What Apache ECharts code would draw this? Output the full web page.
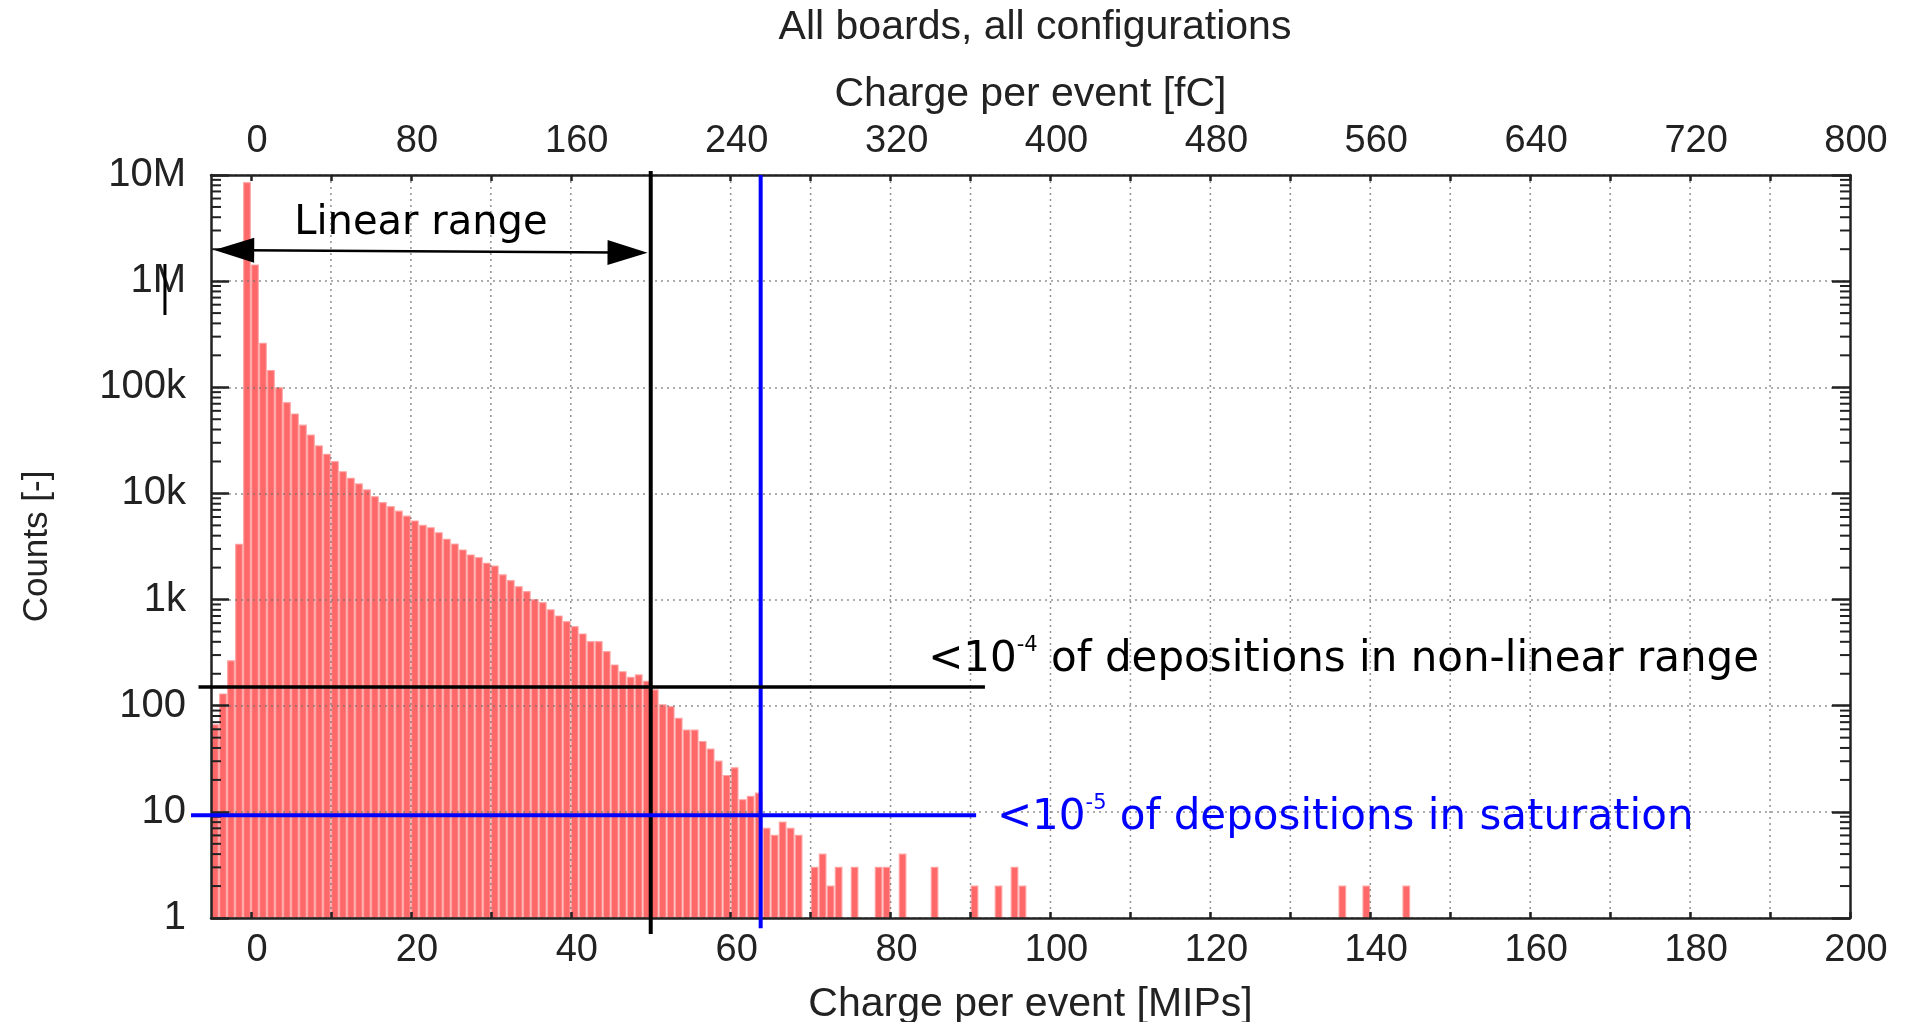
<!DOCTYPE html>
<html><head><meta charset="utf-8">
<script src="https://cdn.jsdelivr.net/npm/echarts@6/dist/echarts.min.js"></script>
<style>html,body{margin:0;padding:0;background:#fff}#c{width:1914px;height:1022px}</style>
</head><body><div id="c"></div>
<script>
// ---------------- data ----------------
const chartTitle = 'All boards, all configurations';
const xTitleBottom = 'Charge per event [MIPs]';
const xTitleTop = 'Charge per event [fC]';
const yTitle = 'Counts [-]';

// histogram bins (left edge in MIPs, 1 MIP wide) and counts
const binLeftMIP = [-5,-4,-3,-2,-1,0,1,2,3,4,5,6,7,8,9,10,11,12,13,14,15,16,17,18,19,20,21,22,23,24,25,26,27,28,29,30,31,32,33,34,35,36,37,38,39,40,41,42,43,44,45,46,47,48,49,50,51,52,53,54,55,56,57,58,59,60,61,62,63,64,65,66,67,68,70,71,72,73,75,78,79,81,85,90,93,95,96,136,139,144];
const binCounts = [66,129,265,3320,8470000,
  1420000,260000,144000,99000,71600,56000,44000,35500,28000,23400,
  19900,16000,13900,12300,10800,9300,8200,7500,6800,6100,
  5500,5000,4750,4260,3700,3330,2930,2630,2480,2200,
  2070,1710,1510,1320,1190,1000,935,800,700,619,
  556,474,401,401,323,242,209,185,195,170,
  141,102,98,76,59,59,46,39,30,22,
  26,13,14,15,7,6,8,7,6,
  3,4,2,3,3,3,3,4,3,2,2,3,2,
  2,2,2];
const binWidthMIP = 1;

// axes
const mipRange = [-5, 200];
const fcRange = [-20, 800];
const mipTickValues = [0,10,20,30,40,50,60,70,80,90,100,110,120,130,140,150,160,170,180,190,200];
const mipLabelValues = [0,20,40,60,80,100,120,140,160,180,200];
const fcTickValues = [0,40,80,120,160,200,240,280,320,360,400,440,480,520,560,600,640,680,720,760,800];
const fcLabelValues = [0,80,160,240,320,400,480,560,640,720,800];
const countRange = [1, 10000000];
const countTickLabels = ['1','10','100','1k','10k','100k','1M','10M'];
const countMinorMantissas = [2,3,4,5,6,7,8,9];
const countDecades = [1,10,100,1000,10000,100000,1000000];
const gridLineMIP = [10,20,30,40,50,60,70,80,90,100,110,120,130,140,150,160,170,180,190];

// annotations
const linearLimitMIP = 50;
const saturationMIP = 63.75;
const nonLinearLevel = 150;
const saturationLevel = 9.3;
const linearRangeFrom = [-4.6, 1960000];
const linearRangeTo = [49.6, 1850000];
const linearRangeText = 'Linear range';
const nonLinearText = ['<10', '-4', ' of depositions in non-linear range'];
const saturationText = ['<10', '-5', ' of depositions in saturation'];

// ---------------- chart ----------------
const chart = echarts.init(document.getElementById('c'), null, {renderer: 'canvas'});
const AX = '#222';
const labelFont = 'Liberation Sans';
const annFont = 'DejaVu Sans';

const barData = binLeftMIP.map((l, i) => [l, l + binWidthMIP, binCounts[i]]);
const minorTicks = [];
countDecades.forEach(d => countMinorMantissas.forEach(m => minorTicks.push([mipRange[0], m * d])));

function renderBar(params, api) {
  const a = api.coord([api.value(0), api.value(2)]);
  const b = api.coord([api.value(1), countRange[0]]);
  return {type: 'rect', shape: {x: a[0] + 0.7, y: a[1], width: b[0] - a[0] - 1.4, height: b[1] - a[1]},
    style: {fill: 'rgba(255,66,66,0.8)', stroke: 'rgba(255,160,160,0.9)', lineWidth: 1.2}};
}
function renderGrid(params, api) {
  const a = api.coord([api.value(0), countRange[1]]);
  const b = api.coord([api.value(0), countRange[0]]);
  return {type: 'line', shape: {x1: a[0], y1: a[1], x2: b[0], y2: b[1]},
    style: {stroke: 'rgba(110,110,110,0.75)', lineWidth: 1.5, lineDash: [2, 4]}};
}
function renderMinor(params, api) {
  const v = api.value(1);
  const a = api.coord([mipRange[0], v]);
  const b = api.coord([mipRange[1], v]);
  return {type: 'group', children: [
    {type: 'line', shape: {x1: a[0], y1: a[1], x2: a[0] + 10, y2: a[1]}, style: {stroke: AX, lineWidth: 2}},
    {type: 'line', shape: {x1: b[0] - 10, y1: b[1], x2: b[0], y2: b[1]}, style: {stroke: AX, lineWidth: 2}}
  ]};
}
function seg(api, p, q, color, w) {
  const a = api.coord(p), b = api.coord(q);
  return {type: 'line', shape: {x1: a[0], y1: a[1], x2: b[0], y2: b[1]}, style: {stroke: color, lineWidth: w}};
}
function arrowHead(tip, base, half) {
  const dx = base[0] - tip[0], dy = base[1] - tip[1];
  const len = Math.sqrt(dx * dx + dy * dy);
  const nx = -dy / len * half, ny = dx / len * half;
  return {type: 'polygon', shape: {points: [tip, [base[0] + nx, base[1] + ny], [base[0] - nx, base[1] - ny]]}, style: {fill: '#000'}};
}
function richText(api, x, v, parts, color, sizeMain, sizeSup, supLH) {
  const p = api.coord([x, v]);
  return {type: 'text', x: p[0], y: p[1], style: {
    text: '{m|' + parts[0] + '}{s|' + parts[1] + '}{m|' + parts[2] + '}',
    align: 'left', verticalAlign: 'middle',
    rich: {
      m: {fontSize: sizeMain, fontFamily: annFont, fill: color, lineHeight: 50},
      s: {fontSize: sizeSup, fontFamily: annFont, fill: color, lineHeight: supLH, verticalAlign: 'top'}
    }}};
}
function renderAnn(params, api) {
  const L0 = api.coord(linearRangeFrom), L1 = api.coord(linearRangeTo);
  const dx = L1[0] - L0[0], dy = L1[1] - L0[1];
  const len = Math.sqrt(dx * dx + dy * dy);
  const ux = dx / len, uy = dy / len;
  const head = 40;
  const tt = api.coord([5.4, 3500000]);
  return {type: 'group', children: [
    seg(api, [linearLimitMIP, 10900000], [linearLimitMIP, 0.707], '#000', 4),
    seg(api, [saturationMIP, countRange[1]], [saturationMIP, 0.8], '#0000ff', 4),
    seg(api, [-6.56, nonLinearLevel], [91.8, nonLinearLevel], '#000', 3.5),
    seg(api, [-7.5, saturationLevel], [90.7, saturationLevel], '#0000ff', 4),
    seg(api, [-10.76, 1450000], [-10.76, 480000], '#000', 3),
    {type: 'line', shape: {x1: L0[0] + ux * head * 0.8, y1: L0[1] + uy * head * 0.8, x2: L1[0] - ux * head * 0.8, y2: L1[1] - uy * head * 0.8}, style: {stroke: '#000', lineWidth: 2.5}},
    arrowHead(L0, [L0[0] + ux * head, L0[1] + uy * head], 12.5),
    arrowHead(L1, [L1[0] - ux * head, L1[1] - uy * head], 12.5),
    {type: 'text', x: tt[0], y: tt[1], style: {text: linearRangeText, fontSize: 40, fontFamily: annFont, fill: '#000', align: 'left', verticalAlign: 'middle'}},
    richText(api, 84.7, 270, nonLinearText, '#000', 42, 21, 45),
    richText(api, 93.3, 8.8, saturationText, '#0000ff', 42, 21, 42)
  ]};
}

const xCommon = {
  type: 'value', z: 5,
  axisLine: {show: true, onZero: false, lineStyle: {color: AX, width: 2.5}},
  splitLine: {show: false},
  nameLocation: 'middle',
  nameTextStyle: {fontFamily: labelFont, fontSize: 41, color: AX}
};
const option = {
  animation: false,
  backgroundColor: '#fff',
  title: {text: chartTitle, left: 1030, textAlign: 'center', top: 2,
    textStyle: {fontFamily: labelFont, fontSize: 41, fontWeight: 'normal', color: AX}},
  grid: {left: 211, right: 64, top: 175, bottom: 104, containLabel: false, outerBoundsMode: 'none'},
  xAxis: [
    Object.assign({}, xCommon, {
      position: 'bottom', min: mipRange[0], max: mipRange[1],
      name: xTitleBottom, nameGap: 66,
      axisTick: {show: true, inside: true, length: 6, customValues: mipTickValues, lineStyle: {color: AX, width: 2.5}},
      axisLabel: {show: true, customValues: mipLabelValues, margin: 14, padding: [0, 0, 0, 12], fontFamily: labelFont, fontSize: 38, color: AX}
    }),
    Object.assign({}, xCommon, {
      position: 'top', min: fcRange[0], max: fcRange[1],
      name: xTitleTop, nameGap: 60,
      axisTick: {show: true, inside: true, length: 6, customValues: fcTickValues, lineStyle: {color: AX, width: 2.5}},
      axisLabel: {show: true, customValues: fcLabelValues, margin: 14, padding: [0, 0, 0, 12], fontFamily: labelFont, fontSize: 38, color: AX}
    })
  ],
  yAxis: [
    {type: 'log', logBase: 10, min: countRange[0], max: countRange[1], splitNumber: 7, position: 'left', z: 5,
      name: yTitle, nameLocation: 'middle', nameGap: 156, nameRotate: 90,
      nameTextStyle: {fontFamily: labelFont, fontSize: 35, color: AX},
      axisLine: {show: true, onZero: false, lineStyle: {color: AX, width: 2.5}},
      axisTick: {show: true, inside: true, length: 18, lineStyle: {color: AX, width: 2.5}},
      axisLabel: {margin: 25, fontFamily: labelFont, fontSize: 40, color: AX,
        formatter: v => countTickLabels[Math.round(Math.log10(v))]},
      splitLine: {show: true, lineStyle: {color: 'rgba(110,110,110,0.75)', width: 1.5, type: [2, 4]}}
    },
    {type: 'log', logBase: 10, min: countRange[0], max: countRange[1], splitNumber: 7, position: 'right', z: 5,
      axisLine: {show: true, onZero: false, lineStyle: {color: AX, width: 2.5}},
      axisTick: {show: true, inside: true, length: 18, lineStyle: {color: AX, width: 2.5}},
      axisLabel: {show: false}, splitLine: {show: false}
    }
  ],
  series: [
    {type: 'custom', name: 'counts', xAxisIndex: 0, yAxisIndex: 0, z: 2, clip: true,
      data: barData, encode: {x: [0, 1], y: 2}, renderItem: renderBar},
    {type: 'custom', name: 'grid', xAxisIndex: 0, yAxisIndex: 0, z: 3, silent: true,
      data: gridLineMIP.map(v => [v, 10]), encode: {x: 0, y: 1}, renderItem: renderGrid},
    {type: 'custom', name: 'minor', xAxisIndex: 0, yAxisIndex: 0, z: 6, silent: true,
      data: minorTicks, encode: {x: 0, y: 1}, renderItem: renderMinor},
    {type: 'custom', name: 'annotations', xAxisIndex: 0, yAxisIndex: 0, z: 10, silent: true, clip: false,
      data: [[0, 10]], encode: {x: 0, y: 1}, renderItem: renderAnn}
  ]
};
chart.setOption(option);
</script></body></html>
